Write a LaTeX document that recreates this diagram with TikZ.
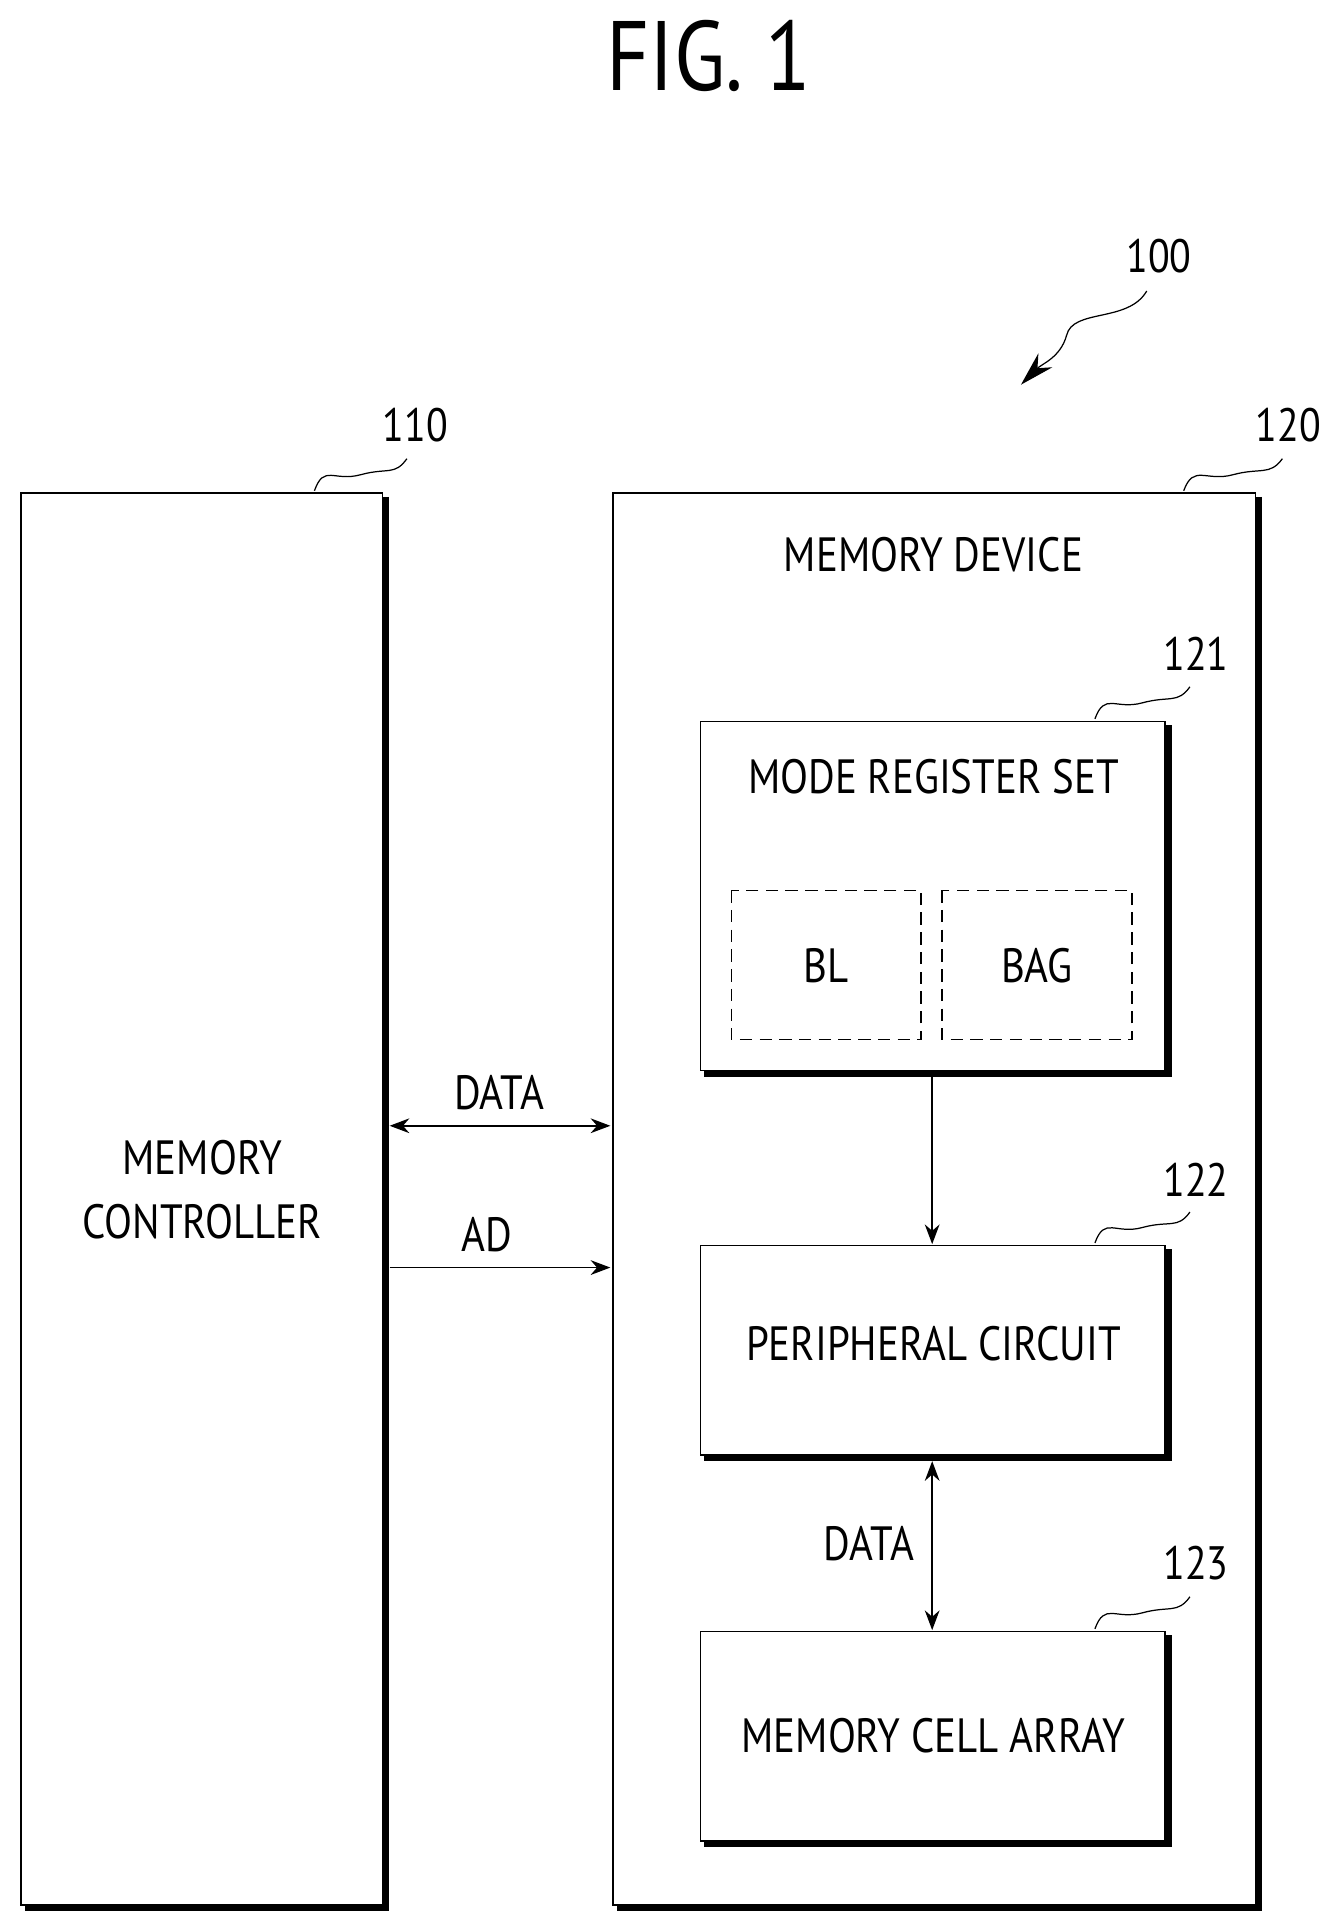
\documentclass[tikz,border=0pt]{standalone}
\usepackage{fontspec}
\setmainfont{PT Sans}[FakeStretch=0.85]
\usetikzlibrary{arrows.meta,calc}
\tikzset{
  blk/.style={draw, line width=0.6pt, inner sep=0pt},
  shd/.style={line width=2.2pt},
  lbl/.style={font=\fontsize{19.5}{22}\selectfont, inner sep=0pt},
  num/.style={font=\fontsize{19}{21}\selectfont, inner sep=0pt},
  conn/.style={line width=0.6pt, -{Stealth[length=8pt,width=6pt]}},
  bconn/.style={line width=0.6pt, {Stealth[length=8pt,width=6pt]}-{Stealth[length=8pt,width=6pt]}},
}
% squiggly leader from a box corner to its reference number
\newcommand{\leader}[2]{\draw[line width=0.5pt] (#1) .. controls +(8,-22) and +(-22,6) .. ($(#1)!0.5!(#2)$) .. controls +(22,-6) and +(-10,14) .. (#2);}
\begin{document}
\begin{tikzpicture}[x=0.5pt,y=-0.5pt]
\useasboundingbox (0,0) rectangle (1080,1562);

% title
\node[font=\fontsize{40}{44}\selectfont, inner sep=0pt] (fig) at (575,45) {FIG. 1};

% memory controller
\draw[blk] (17,400) rectangle (310,1545);
\draw[shd] (313,403) -- (313,1548) -- (20,1548);
\node[lbl, align=center] (mc) at (164,965) {MEMORY\\[4pt]CONTROLLER};
\coordinate (mcne) at (255,398);
\node[num] (n110) at (337,345) {110};
\coordinate (t110) at (330,372);
\leader{mcne}{t110}

% memory device
\draw[blk] (497,400) rectangle (1018,1545);
\draw[shd] (1021,403) -- (1021,1548) -- (500,1548);
\node[lbl] (md) at (757,450) {MEMORY DEVICE};
\coordinate (mdne) at (960,398);
\node[num] (n120) at (1045,345) {120};
\coordinate (t120) at (1040,372);
\leader{mdne}{t120}

% mode register set
\draw[blk] (568,585) rectangle (945,868);
\draw[shd] (948,588) -- (948,871) -- (571,871);
\node[lbl] (mrs) at (757,630) {MODE REGISTER SET};
\draw[line width=0.5pt, dash pattern=on 5pt off 3pt] (593,722) rectangle (747,843);
\draw[line width=0.5pt, dash pattern=on 5pt off 3pt] (764,722) rectangle (918,843);
\node[lbl] (bl) at (670,783) {BL};
\node[lbl] (bag) at (841,783) {BAG};
\coordinate (mrsne) at (888,583);
\node[num] (n121) at (970,530) {121};
\coordinate (t121) at (965,557);
\leader{mrsne}{t121}

% peripheral circuit
\draw[blk] (568,1010) rectangle (945,1180);
\draw[shd] (948,1013) -- (948,1183) -- (571,1183);
\node[lbl] (pc) at (757,1090) {PERIPHERAL CIRCUIT};
\coordinate (pcne) at (888,1008);
\node[num] (n122) at (970,957) {122};
\coordinate (t122) at (965,983);
\leader{pcne}{t122}

% memory cell array
\draw[blk] (568,1323) rectangle (945,1493);
\draw[shd] (948,1326) -- (948,1496) -- (571,1496);
\node[lbl] (mca) at (757,1408) {MEMORY CELL ARRAY};
\coordinate (mcane) at (888,1321);
\node[num] (n123) at (970,1268) {123};
\coordinate (t123) at (965,1295);
\leader{mcane}{t123}

% connectors
\coordinate (mrsb) at (756,872);
\coordinate (pct) at (756,1009);
\coordinate (pcb) at (756,1185);
\coordinate (mcat) at (756,1322);
\draw[conn] (mrsb) -- (pct);
\draw[bconn] (pcb) -- (mcat);
\node[lbl] (d2) at (705,1252) {DATA};

\coordinate (dl) at (316,913);
\coordinate (dr) at (495,913);
\coordinate (al) at (316,1028);
\coordinate (ar) at (495,1028);
\draw[bconn] (dl) -- (dr);
\draw[conn] (al) -- (ar);
\node[lbl] (d1) at (405,886) {DATA};
\node[lbl] (ad) at (395,1001) {AD};

% system reference
\node[num] (n100) at (940,208) {100};
\coordinate (s100) at (930,236);
\coordinate (e100) at (828,312);
\draw[line width=0.5pt, -{Stealth[length=14pt,width=8pt]}] (s100) .. controls (915,262) and (870,250) .. (865,272) .. controls (860,290) and (845,295) .. (e100);
\end{tikzpicture}
\end{document}
